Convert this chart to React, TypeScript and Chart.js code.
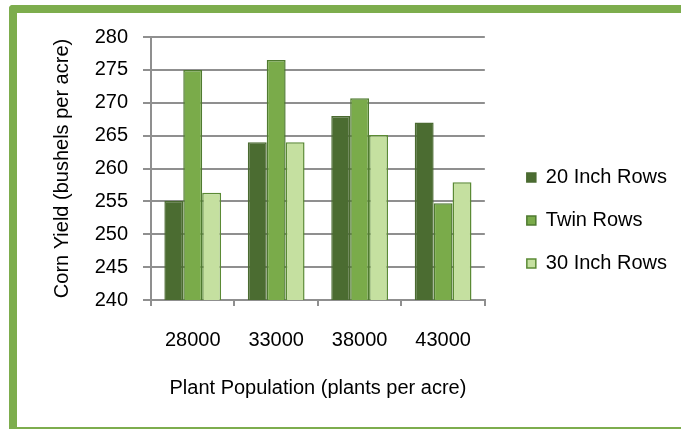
import React, { useEffect, useRef } from "react";
import { Chart, registerables } from "chart.js";

Chart.register(...registerables);

const categories = ["28000", "33000", "38000", "43000"];
const seriesNames = ["20 Inch Rows", "Twin Rows", "30 Inch Rows"];
const rows20 = [255.1, 264.0, 268.0, 267.0];
const twinRows = [275.0, 276.5, 270.7, 254.7];
const rows30 = [256.3, 264.0, 265.1, 257.9];
const yMin = 240;
const yMax = 280;
const yStep = 5;

const FONT = "'Liberation Sans', Arial, sans-serif";
const GRID = "#8f8f8f";

export default function App() {
  const ref = useRef<HTMLCanvasElement | null>(null);

  useEffect(() => {
    if (!ref.current) return;
    const chart = new Chart(ref.current, {
      type: "bar",
      data: {
        labels: categories,
        datasets: [
          {
            label: seriesNames[0],
            data: rows20,
            backgroundColor: "#4b6c31",
            borderColor: "#4a6a30",
            borderWidth: 1.5,
          },
          {
            label: seriesNames[1],
            data: twinRows,
            backgroundColor: "#7aab4a",
            borderColor: "#4f7a30",
            borderWidth: 1.5,
          },
          {
            label: seriesNames[2],
            data: rows30,
            backgroundColor: "#c5e0a0",
            borderColor: "#5b8a35",
            borderWidth: 1.5,
          },
        ],
      },
      options: {
        responsive: false,
        animation: false,
        devicePixelRatio: 1,
        datasets: {
          bar: { categoryPercentage: 0.68, barPercentage: 1 },
        },
        layout: { padding: { top: 37, left: 46, bottom: 25, right: 4 } },
        plugins: {
          tooltip: { enabled: false },
          legend: {
            position: "right",
            maxWidth: 220,
            labels: {
              boxWidth: 9,
              boxHeight: 9,
              padding: 23,
              color: "#000",
              font: { family: FONT, size: 20 },
            },
          },
        },
        scales: {
          x: {
            grid: {
              display: true,
              drawOnChartArea: false,
              drawTicks: true,
              tickLength: 6,
              color: GRID,
              lineWidth: 2,
            },
            border: { display: true, color: GRID, width: 2 },
            ticks: {
              color: "#000",
              padding: 22,
              font: { family: FONT, size: 20 },
            },
            title: {
              display: true,
              text: "Plant Population (plants per acre)",
              color: "#000",
              font: { family: FONT, size: 20 },
              padding: { top: 4, bottom: 4 },
            },
            afterFit: (s: any) => {
              s.height = 104;
            },
          },
          y: {
            min: yMin,
            max: yMax,
            grid: {
              color: GRID,
              lineWidth: 2,
              tickLength: 8,
              drawTicks: true,
            },
            border: { display: true, color: GRID, width: 2 },
            ticks: {
              stepSize: yStep,
              color: "#000",
              padding: 15,
              font: { family: FONT, size: 20 },
            },
            title: {
              display: true,
              text: "Corn Yield (bushels per acre)",
              color: "#000",
              font: { family: FONT, size: 20 },
              padding: { top: 4, bottom: 4 },
            },
            afterFit: (s: any) => {
              s.width = 105;
            },
          },
          yR: {
            type: "linear",
            position: "right",
            display: true,
            grid: { display: false, drawTicks: false },
            border: { display: false },
            ticks: { display: false },
            afterFit: (s: any) => {
              s.width = 19;
            },
          },
        },
      },
    } as any);
    return () => chart.destroy();
  }, []);

  return (
    <div
      style={{
        position: "absolute",
        left: 0,
        top: 0,
        width: 681,
        height: 429,
        background: "#fff",
        overflow: "hidden",
      }}
    >
      <div
        style={{
          position: "absolute",
          left: 9,
          top: 5,
          width: 672,
          height: 424,
          boxSizing: "border-box",
          borderTop: "8px solid #7dad4d",
          borderLeft: "8px solid #7dad4d",
          borderBottom: "2px solid #7dad4d",
          borderTopLeftRadius: 4,
        }}
      />
      <canvas
        ref={ref}
        width={681}
        height={429}
        style={{ position: "absolute", left: 0, top: 0, width: 681, height: 429 }}
      />
    </div>
  );
}
